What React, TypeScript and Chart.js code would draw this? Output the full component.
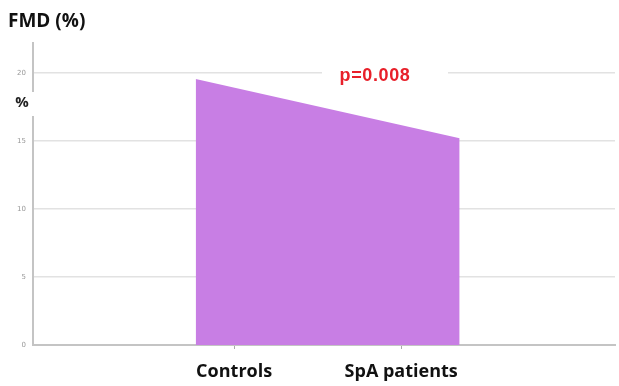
import React, { useEffect, useRef } from "react";
import { Chart, registerables } from "chart.js";

Chart.register(...registerables);

const categories = ["Controls", "SpA patients"];
const categoryPositions = [1, 2];
const areaX = [0.77, 2.35];
const areaY = [19.55, 15.2];
const yTicks = [0, 5, 10, 15, 20];
const titleText = "FMD (%)";
const yLabel = "%";
const pText = "p=0.008";

export default function App() {
  const ref = useRef<HTMLCanvasElement>(null);
  useEffect(() => {
    const ctx = ref.current!;
    const overlay = {
      id: "overlay",
      afterDraw(chart: any) {
        const c = chart.ctx;
        const y = chart.scales.y;
        const x = chart.scales.x;
        c.save();
        // title
        c.fillStyle = "#111";
        c.font = "bold 19px 'Open Sans', 'DejaVu Sans', sans-serif";
        c.textBaseline = "middle";
        c.textAlign = "left";
        c.fillText(titleText, 8, 22);
        // % label on y axis
        c.fillStyle = "#fff";
        c.fillRect(x.left - 14, 92, 26, 24);
        c.fillStyle = "#222";
        c.font = "bold 15px 'Open Sans', 'DejaVu Sans', sans-serif";
        c.textAlign = "center";
        c.fillText(yLabel, x.left - 11, 103);
        // p value
        const py = y.getPixelForValue(20);
        c.fillStyle = "#fff";
        c.fillRect(322, py - 9, 126, 18);
        c.fillStyle = "#e8202a";
        c.font = "bold 18px 'Liberation Sans', Arial, sans-serif";
        (c as any).letterSpacing = "0.6px";
        c.fillText(pText, 375, py + 3);
        c.restore();
      },
    };
    const chart = new Chart(ctx, {
      type: "line",
      data: {
        datasets: [
          {
            data: areaX.map((v, i) => ({ x: v, y: areaY[i] })),
            fill: "origin",
            backgroundColor: "#c87ee4",
            borderWidth: 0,
            pointRadius: 0,
            tension: 0,
          },
        ],
      },
      options: {
        animation: false,
        responsive: false,
        maintainAspectRatio: false,
        layout: { padding: { top: 43, left: 0, right: 4, bottom: 0 } },
        plugins: { legend: { display: false }, tooltip: { enabled: false } },
        scales: {
          x: {
            type: "linear",
            min: -0.204,
            max: 3.28,
            afterFit: (s: any) => {
              s.height = 41;
            },
            afterBuildTicks: (s: any) => {
              s.ticks = categoryPositions.map((v) => ({ value: v }));
            },
            ticks: {
              autoSkip: false,
              maxRotation: 0,
              padding: 12,
              color: "#111",
              font: { size: 18, weight: "bold", family: "'Open Sans', 'DejaVu Sans', sans-serif" },
              callback: (v: any) => {
                const i = categoryPositions.indexOf(v);
                return i >= 0 ? categories[i] : "";
              },
            },
            grid: { drawOnChartArea: false, tickLength: 4, color: "#aaa", lineWidth: 1 },
            border: { color: "#c4c4c4", width: 2 },
          },
          y: {
            min: 0,
            max: 22.2,
            afterFit: (s: any) => {
              s.width = 33;
            },
            afterBuildTicks: (s: any) => {
              s.ticks = yTicks.map((v) => ({ value: v }));
            },
            ticks: {
              padding: 7,
              color: "#999",
              font: { size: 7, family: "'DejaVu Sans', sans-serif" },
            },
            grid: { drawTicks: false, color: "#e2e2e2", lineWidth: 1.5 },
            border: { color: "#c4c4c4", width: 2 },
          },
        },
      },
      plugins: [overlay],
    });
    return () => chart.destroy();
  }, []);
  return (
    <div style={{ position: "fixed", left: 0, top: 0, width: 619, height: 386, background: "#fff" }}>
      <canvas ref={ref} width={619} height={386} style={{ width: 619, height: 386 }} />
    </div>
  );
}
